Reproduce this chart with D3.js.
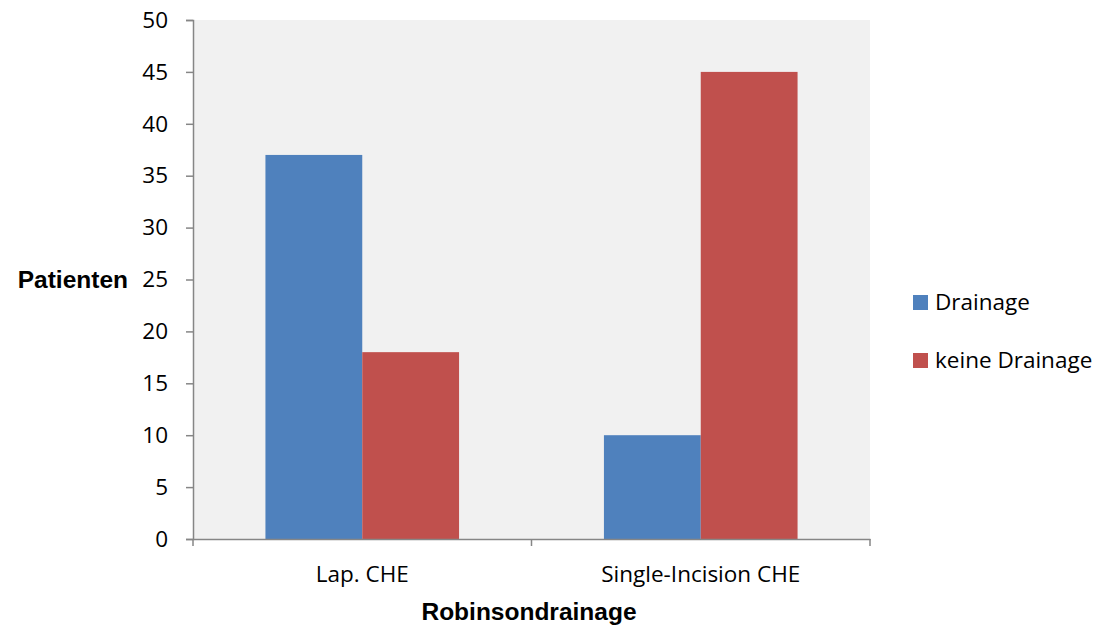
<!DOCTYPE html>
<html>
<head>
<meta charset="utf-8">
<script src="https://cdn.jsdelivr.net/npm/d3@7"></script>
<style>
  body { margin: 0; background: #fff; }
</style>
</head>
<body>
<div id="chart"></div>
<script>
var categories = ['Lap. CHE', 'Single-Incision CHE'];
var seriesNames = ['Drainage', 'keine Drainage'];
var drainage = [37, 10];
var keineDrainage = [18, 45];
var yTicks = [0, 5, 10, 15, 20, 25, 30, 35, 40, 45, 50];

var colors = ['#4f81bd', '#c0504d'];
var font = "'Open Sans', sans-serif";
var titleFont = "bold 24.5px 'Liberation Sans', Arial, sans-serif";

var width = 1101,
    height = 630,
    margin = { left: 193, top: 20, right: 231, bottom: 91 };

var svg = d3.select('#chart')
    .append('svg')
    .attr('width', width)
    .attr('height', height);

var plotW = width - margin.left - margin.right,
    plotH = height - margin.top - margin.bottom;

var g = svg.append('g')
    .attr('transform', 'translate(' + margin.left + ',' + margin.top + ')');

var x0 = d3.scaleBand()
    .domain(categories)
    .range([0, plotW])
    .paddingInner(0.428)
    .paddingOuter(0.214);

var x1 = d3.scaleBand()
    .domain(seriesNames)
    .range([0, x0.bandwidth()]);

var y = d3.scaleLinear()
    .domain([0, 50])
    .range([plotH, 0]);

// plot background
g.append('rect')
    .attr('width', plotW)
    .attr('height', plotH)
    .attr('fill', '#f1f1f1');

var rows = categories.map(function(c, i) {
    return { cat: c, values: [drainage[i], keineDrainage[i]] };
});

var groups = g.selectAll('.group')
    .data(rows)
    .enter()
    .append('g')
    .attr('transform', function(d) { return 'translate(' + x0(d.cat) + ',0)'; });

groups.selectAll('rect')
    .data(function(d) {
        return d.values.map(function(v, j) { return { name: seriesNames[j], value: v, j: j }; });
    })
    .enter()
    .append('rect')
    .attr('x', function(d) { return x1(d.name); })
    .attr('y', function(d) { return y(d.value); })
    .attr('width', x1.bandwidth())
    .attr('height', function(d) { return plotH - y(d.value); })
    .attr('fill', function(d) { return colors[d.j]; });

// y axis
var yAxis = g.append('g')
    .call(d3.axisLeft(y).tickValues(yTicks).tickSize(7).tickPadding(18));
yAxis.select('.domain').attr('stroke', '#868686').attr('stroke-width', 1.5);
yAxis.selectAll('.tick line').attr('stroke', '#868686').attr('stroke-width', 1.5);
yAxis.selectAll('.tick text')
    .attr('fill', '#000')
    .style('font', '22.5px ' + font);

// x axis
var xAxis = g.append('g')
    .attr('transform', 'translate(0,' + plotH + ')')
    .call(d3.axisBottom(x0).tickSize(0).tickPadding(27));
xAxis.select('.domain').attr('stroke', '#868686').attr('stroke-width', 1.5);
xAxis.selectAll('.tick text')
    .attr('fill', '#000')
    .style('font', '22.5px ' + font);

// category boundary tick marks
var bounds = [0].concat(categories.map(function(c) { return x0(c) + x0.bandwidth() + x0.step() * 0.214; }));
xAxis.selectAll('.bound')
    .data(bounds)
    .enter()
    .append('line')
    .attr('x1', function(d) { return d; })
    .attr('x2', function(d) { return d; })
    .attr('y1', 0)
    .attr('y2', 7)
    .attr('stroke', '#868686')
    .attr('stroke-width', 1.5);

// axis titles
svg.append('text')
    .attr('x', 128)
    .attr('y', 288)
    .attr('text-anchor', 'end')
    .style('font', titleFont)
    .text('Patienten');

svg.append('text')
    .attr('x', 529)
    .attr('y', 620)
    .attr('text-anchor', 'middle')
    .style('font', titleFont)
    .text('Robinsondrainage');

// legend
var legend = svg.append('g')
    .attr('transform', 'translate(913,295)');

var items = legend.selectAll('g')
    .data(seriesNames)
    .enter()
    .append('g')
    .attr('transform', function(d, i) { return 'translate(0,' + i * 58 + ')'; });

items.append('rect')
    .attr('width', 15)
    .attr('height', 15)
    .attr('fill', function(d, i) { return colors[i]; });

items.append('text')
    .attr('x', 22)
    .attr('y', 7.5)
    .attr('dy', '0.35em')
    .style('font', '22.5px ' + font)
    .text(function(d) { return d; });
</script>
</body>
</html>
